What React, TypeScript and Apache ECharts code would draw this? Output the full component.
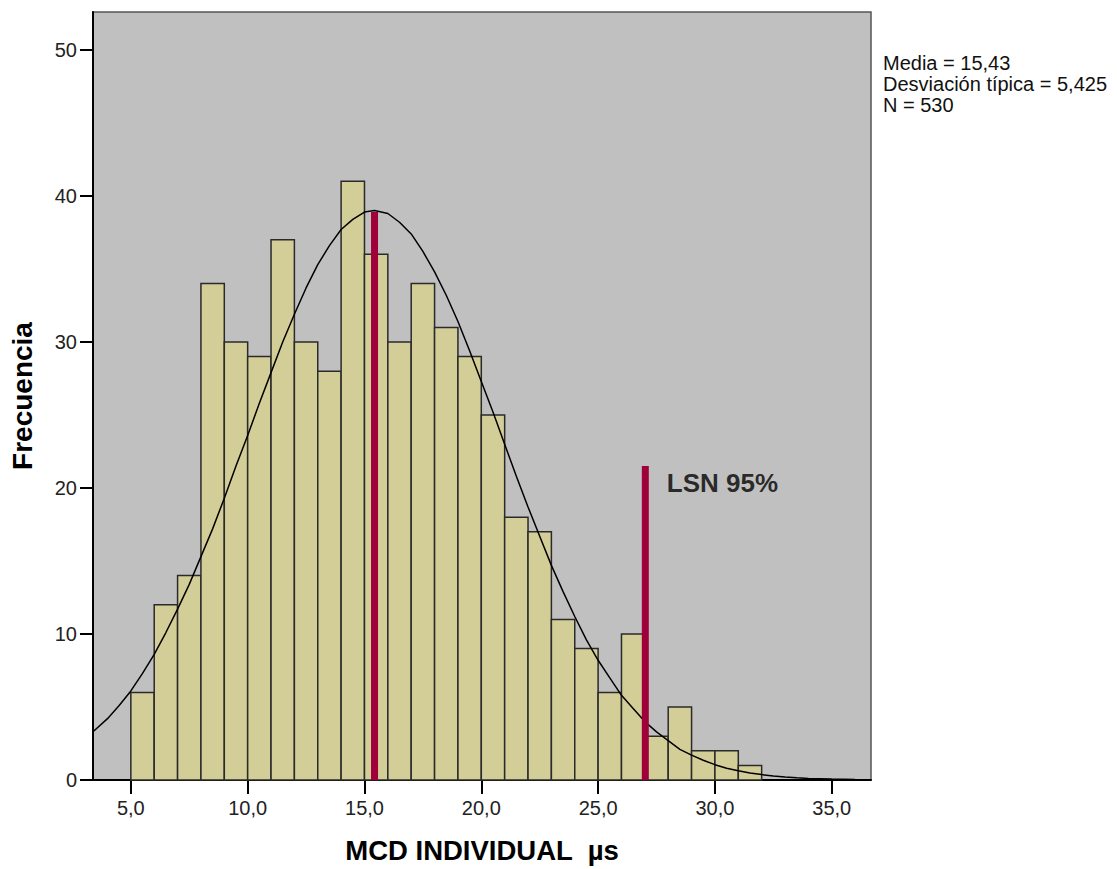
import React, { useEffect, useRef } from "react";
import * as echarts from "echarts";

// Histogram bins (lower edge, count), bin width 1
const binStarts = [5, 6, 7, 8, 9, 10, 11, 12, 13, 14, 15, 16, 17, 18, 19, 20, 21, 22, 23, 24, 25, 26, 27, 28, 29, 30, 31];
const binCounts = [6, 12, 14, 34, 30, 29, 37, 30, 28, 41, 36, 30, 34, 31, 29, 25, 18, 17, 11, 9, 6, 10, 3, 5, 2, 2, 1];
const binWidth = 1;

// Normal curve
const curveX = [3.38, 4, 4.5, 5, 5.5, 6, 6.5, 7, 7.5, 8, 8.5, 9, 9.5, 10, 10.5, 11, 11.5, 12, 12.5, 13, 13.5, 14, 14.5, 15, 15.43, 16, 16.5, 17, 17.5, 18, 18.5, 19, 19.5, 20, 20.5, 21, 21.5, 22, 22.5, 23, 23.5, 24, 24.5, 25, 25.5, 26, 26.5, 27, 27.5, 28, 28.5, 29, 29.5, 30, 30.5, 31, 31.5, 32, 32.5, 33, 33.5, 34, 35, 36, 36.68];
const curveY = [3.3, 4.2, 5.1, 6.1, 7.3, 8.6, 10.1, 11.7, 13.4, 15.3, 17.2, 19.3, 21.5, 23.6, 25.8, 27.9, 30.0, 31.9, 33.7, 35.3, 36.6, 37.7, 38.4, 38.9, 39.0, 38.8, 38.2, 37.4, 36.2, 34.8, 33.2, 31.4, 29.4, 27.3, 25.2, 23.0, 20.8, 18.7, 16.7, 14.7, 12.9, 11.2, 9.6, 8.2, 7.0, 5.8, 4.9, 4.0, 3.3, 2.7, 2.1, 1.7, 1.35, 1.05, 0.8, 0.63, 0.48, 0.37, 0.28, 0.21, 0.15, 0.11, 0.06, 0.03, 0.02];

// Reference lines
const meanX = 15.43;
const meanTop = 38.9;
const lsnX = 27.02;
const lsnTop = 21.5;
const lsnLabel = "LSN 95%";

const xTicks = [5, 10, 15, 20, 25, 30, 35];
const statsLines = ["Media = 15,43", "Desviación típica = 5,425", "N = 530"];

const FONT = "'Liberation Sans', Arial, sans-serif";
const RED = "#A0003A";

export default function App() {
  const ref = useRef<HTMLDivElement>(null);
  useEffect(() => {
    if (!ref.current) return;
    const chart = echarts.init(ref.current, undefined, { renderer: "svg" });
    const barData = binStarts.map((s, i) => [s, s + binWidth, binCounts[i]]);
    chart.setOption({
      animation: false,
      backgroundColor: "#ffffff",
      textStyle: { fontFamily: FONT },
      grid: { left: 91, top: 12, width: 780, height: 771, show: true, backgroundColor: "#C0C0C0", borderColor: "#555555", borderWidth: 1.5 },
      xAxis: {
        type: "value",
        min: 3.38,
        max: 36.68,
        name: "MCD INDIVIDUAL  µs",
        nameLocation: "middle",
        nameGap: 56,
        nameTextStyle: { fontSize: 27.5, fontWeight: "bold", color: "#000", fontFamily: FONT },
        splitLine: { show: false },
        axisLine: { show: true, onZero: false, lineStyle: { color: "#000", width: 2 } },
        axisTick: { show: true, length: 14, customValues: xTicks, lineStyle: { color: "#000", width: 2 } },
        axisLabel: {
          customValues: xTicks,
          margin: 18,
          fontSize: 20,
          color: "#222",
          fontFamily: FONT,
          formatter: (v: number) => v.toFixed(1).replace(".", ","),
        },
      },
      yAxis: {
        type: "value",
        min: 0,
        max: 52.6,
        interval: 10,
        name: "Frecuencia",
        nameLocation: "middle",
        nameGap: 57,
        nameTextStyle: { fontSize: 28, fontWeight: "bold", color: "#000", fontFamily: FONT },
        splitLine: { show: false },
        axisLine: { show: true, lineStyle: { color: "#000", width: 2 } },
        axisTick: { show: true, length: 13, lineStyle: { color: "#000", width: 2 } },
        axisLabel: { margin: 16, fontSize: 20, color: "#222", fontFamily: FONT, showMaxLabel: false },
      },
      series: [
        {
          type: "custom",
          data: barData,
          encode: { x: [0, 1], y: 2 },
          renderItem: (params: any, api: any) => {
            const p0 = api.coord([api.value(0), api.value(2)]);
            const p1 = api.coord([api.value(1), 0]);
            return {
              type: "rect",
              shape: { x: p0[0], y: p0[1], width: p1[0] - p0[0], height: p1[1] - p0[1] },
              style: { fill: "#D3CE97", stroke: "#2a2a2a", lineWidth: 1.5 },
            };
          },
          z: 2,
        },
        {
          type: "line",
          data: curveX.map((x, i) => [x, curveY[i]]),
          smooth: false,
          showSymbol: false,
          symbol: "none",
          lineStyle: { color: "#000", width: 1.5 },
          z: 3,
        },
        {
          type: "line",
          data: [[meanX, 0], [meanX, meanTop]],
          showSymbol: false,
          symbol: "none",
          lineStyle: { color: RED, width: 7, cap: "butt" },
          z: 4,
        },
        {
          type: "line",
          data: [[lsnX, 0], [lsnX, lsnTop]],
          showSymbol: false,
          symbol: "none",
          lineStyle: { color: RED, width: 7, cap: "butt" },
          z: 4,
        },
        {
          type: "scatter",
          data: [[lsnX, lsnTop]],
          symbolSize: 1,
          itemStyle: { color: "rgba(0,0,0,0)" },
          label: {
            show: true,
            formatter: lsnLabel,
            position: "right",
            distance: 0,
            offset: [21, 17],
            fontSize: 26,
            fontWeight: "bold",
            color: "#000",
            fontFamily: FONT,
          },
          z: 5,
        },
      ],
      graphic: [
        {
          type: "text",
          left: 883,
          top: 52,
          style: {
            text: statsLines.join("\n"),
            fontSize: 20,
            lineHeight: 21,
            fill: "#111",
            fontFamily: FONT,
          },
        },
      ],
    });
    return () => chart.dispose();
  }, []);
  return <div ref={ref} style={{ position: "absolute", left: 0, top: 0, width: 1117, height: 869 }} />;
}
